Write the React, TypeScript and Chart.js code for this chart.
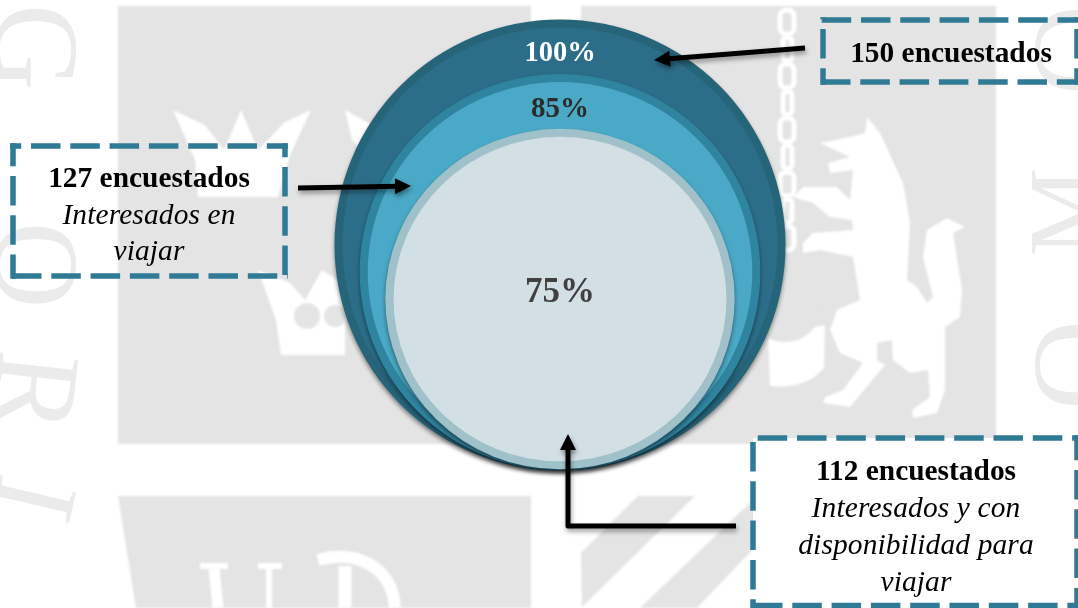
import React, { useEffect, useRef } from "react";
import { Chart, registerables } from "chart.js";

Chart.register(...registerables);

const categories = ["Encuestados", "Interesados en viajar", "Interesados y con disponibilidad para viajar"];
const respondents = [150, 127, 112];
const percentages = [100, 85, 75];
// Diameter of each circle as drawn in the picture, outer circle = 100
const drawnSize = [100, 87.8, 75.5];
const drawnLift = [0, 0.2, 0.5];

const WIDTH = 1078;
const HEIGHT = 608;
const PX_PER_UNIT = 2.255;
const CENTER_X = 560;
const BASE_Y = 470.5;
const RIM = 8;
const widthStretch = [1, 1.012, 1.026];
const rimColors = ["#26647a", "#2f84a0", "#a1c1ca"];
const fillColors = ["#2c6e8a", "#4aa9c6", "#d2dfe5"];
const percentColors = ["#ffffff", "#2b2b2b", "#404040"];
const percentFonts = [28.5, 29, 35];
const percentY = [54, 110, 293];
const GREY = "#e4e4e4";
const TEAL = "#2f7a94";

type Pt = [number, number];
const poly = (c: CanvasRenderingContext2D, pts: Pt[], color: string) => {
  c.fillStyle = color;
  c.beginPath();
  pts.forEach(([x, y], i) => (i ? c.lineTo(x, y) : c.moveTo(x, y)));
  c.closePath();
  c.fill();
};

const lion: Pt[] = [
  [867, 117], [880, 133], [903, 183], [910, 223], [907, 280], [917, 287], [927, 303], [933, 297], [923, 257],
  [927, 230], [947, 218], [965, 227], [953, 233], [962, 290], [960, 317], [945, 327], [945, 390], [937, 413],
  [913, 418], [912, 410], [930, 397], [928, 370], [910, 373], [893, 360], [892, 340], [877, 343], [877, 360],
  [885, 365], [850, 407], [823, 403], [825, 397], [843, 390], [863, 363], [840, 353], [830, 330], [837, 310],
  [860, 300], [853, 257], [820, 250], [803, 253], [803, 243], [813, 233], [853, 230], [852, 220], [830, 217],
  [813, 203], [793, 197], [803, 187], [837, 187], [850, 200], [853, 170], [830, 173], [828, 163], [850, 157],
  [820, 143], [850, 137], [865, 133],
];

const drawWatermark = (c: CanvasRenderingContext2D) => {
  c.save();
  c.fillStyle = "#ffffff";
  c.fillRect(0, 0, WIDTH, HEIGHT);
  c.filter = "blur(0.8px)";
  c.fillStyle = GREY;
  c.fillRect(118, 6, 413, 438);
  c.fillRect(581, 6, 415, 438);
  poly(c, [[118, 496], [531, 496], [531, 608], [136, 608]], GREY);
  poly(c, [[638, 496], [695, 496], [582, 607], [581, 553]], GREY);
  poly(c, [[757, 496], [757, 545], [697, 608], [640, 608]], GREY);

  // crowns
  poly(c, [[173, 110], [205, 125], [224, 150], [241, 110], [258, 150], [285, 122], [311, 110], [290, 155], [278, 197], [198, 197], [195, 160]], "#fff");
  poly(c, [[345, 110], [372, 125], [372, 160], [352, 140]], "#fff");
  poly(c, [[258, 270], [290, 283], [305, 300], [322, 270], [345, 285], [345, 355], [281, 355], [276, 320]], "#fff");
  c.fillStyle = GREY;
  c.beginPath();
  c.arc(307, 316, 13, 0, Math.PI * 2);
  c.arc(335, 316, 11, 0, Math.PI * 2);
  c.fill();

  // lion, bucket and chain
  poly(c, lion, "#fff");
  c.fillStyle = "#fff";
  c.beginPath();
  c.moveTo(768, 335);
  c.lineTo(825, 325);
  c.lineTo(824, 368);
  c.quadraticCurveTo(805, 390, 770, 386);
  c.closePath();
  c.fill();
  c.fillStyle = GREY;
  c.beginPath();
  c.ellipse(785, 316, 32, 26, 0, 0, Math.PI * 2);
  c.fill();
  c.strokeStyle = "#fff";
  c.lineWidth = 5;
  for (let i = 0; i < 9; i++) {
    const y = 10 + i * 27;
    const wide = i % 2 === 0;
    c.beginPath();
    c.roundRect(wide ? 780 : 783, y, wide ? 14 : 9, 24, 6);
    c.stroke();
  }

  // lower emblem strokes
  c.strokeStyle = "#fff";
  c.lineWidth = 11;
  c.beginPath();
  c.moveTo(214, 568); c.lineTo(218, 608);
  c.stroke();
  c.lineWidth = 6;
  c.beginPath();
  c.moveTo(269, 568); c.lineTo(269, 608);
  c.moveTo(200, 566); c.lineTo(228, 566);
  c.moveTo(258, 566); c.lineTo(282, 566);
  c.stroke();
  c.lineWidth = 13;
  c.beginPath();
  c.moveTo(345, 608); c.lineTo(345, 566);
  c.stroke();
  c.lineWidth = 12;
  c.beginPath();
  c.moveTo(318, 560);
  c.bezierCurveTo(355, 550, 392, 565, 395, 608);
  c.stroke();
  c.filter = "none";

  // side letters of the watermark
  const letter = (t: string, x: number, y: number, rot: number, size: number, color = "#ebebeb") => {
    c.save();
    c.translate(x, y);
    c.rotate(rot);
    c.fillStyle = color;
    c.font = `${size}px "Liberation Serif"`;
    c.textAlign = "center";
    c.textBaseline = "alphabetic";
    c.fillText(t, 0, 0);
    c.restore();
  };
  letter("G", -4, 47, Math.PI / 2, 120);
  letter("O", -4, 265, Math.PI / 2, 120);
  letter("R", -4, 388, 1.68, 120);
  letter("I", -4, 490, 1.8, 120);
  letter("O", 1118, 50, -Math.PI / 2, 125);
  letter("M", 1097, 212, -Math.PI / 2, 100);
  letter("O", 1118, 365, -Math.PI / 2, 125);
  c.restore();
};

const DASH = 29.5;
const PITCH = 39.3;
const side = (c: CanvasRenderingContext2D, x1: number, y1: number, x2: number, y2: number, start: number) => {
  const from = x1 === x2 ? y1 : x1;
  c.lineDashOffset = (((from - start) % PITCH) + PITCH) % PITCH;
  c.beginPath();
  c.moveTo(x1, y1);
  c.lineTo(x2, y2);
  c.stroke();
};

const dashedBox = (
  c: CanvasRenderingContext2D,
  x: number, y: number, w: number, h: number,
  starts: { top: number; right: number; bottom: number; left: number },
  fill?: string,
) => {
  c.save();
  if (fill) {
    c.fillStyle = fill;
    c.fillRect(x, y, w, h);
  }
  const e = 2.75;
  c.strokeStyle = TEAL;
  c.lineWidth = 5.5;
  c.setLineDash([DASH, PITCH - DASH]);
  side(c, x - e, y, x + w + e, y, starts.top);
  side(c, x + w, y - e, x + w, y + h + e, starts.right);
  side(c, x - e, y + h, x + w + e, y + h, starts.bottom);
  side(c, x, y - e, x, y + h + e, starts.left);
  c.restore();
};

const arrow = (c: CanvasRenderingContext2D, pts: Pt[]) => {
  const tip = pts[pts.length - 1];
  const prev = pts[pts.length - 2];
  const a = Math.atan2(tip[1] - prev[1], tip[0] - prev[0]);
  c.save();
  c.shadowColor = "rgba(0,0,0,0.4)";
  c.shadowBlur = 5;
  c.shadowOffsetX = 1;
  c.shadowOffsetY = 3;
  c.strokeStyle = "#000";
  c.lineWidth = 5;
  c.lineJoin = "round";
  c.beginPath();
  pts.forEach(([x, y], i) => {
    if (i === pts.length - 1) {
      c.lineTo(x - 12 * Math.cos(a), y - 12 * Math.sin(a));
    } else if (i) c.lineTo(x, y);
    else c.moveTo(x, y);
  });
  c.stroke();
  c.fillStyle = "#000";
  c.beginPath();
  c.moveTo(tip[0], tip[1]);
  c.lineTo(tip[0] - 16 * Math.cos(a) - 8 * Math.sin(a), tip[1] - 16 * Math.sin(a) + 8 * Math.cos(a));
  c.lineTo(tip[0] - 16 * Math.cos(a) + 8 * Math.sin(a), tip[1] - 16 * Math.sin(a) - 8 * Math.cos(a));
  c.closePath();
  c.fill();
  c.restore();
};

const text = (c: CanvasRenderingContext2D, t: string, x: number, y: number, font: string, color = "#000", spacing = "0px") => {
  c.font = font;
  c.fillStyle = color;
  (c as any).letterSpacing = spacing;
  c.textAlign = "center";
  c.textBaseline = "middle";
  c.fillText(t, x, y);
  (c as any).letterSpacing = "0px";
};

const BOLD = 'bold 29.4px "Liberation Serif"';
const ITALIC = 'italic 29.4px "Liberation Serif"';
const SP = "0.15px";

const scenery = {
  id: "scenery",
  beforeDraw(chart: Chart) {
    drawWatermark(chart.ctx);
  },
  beforeDatasetDraw(chart: Chart, args: { index: number }) {
    const c = chart.ctx;
    c.save();
    const cx = chart.scales.x.getPixelForValue(0);
    c.translate(cx, 0);
    c.scale(widthStretch[Math.floor(args.index / 2)], 1);
    c.translate(-cx, 0);
    if (args.index % 2 === 0) {
      c.shadowColor = "rgba(0,0,0,0.45)";
      c.shadowBlur = 4;
      c.shadowOffsetY = 3;
    }
  },
  afterDatasetDraw(chart: Chart) {
    chart.ctx.restore();
  },
  afterDatasetsDraw(chart: Chart) {
    const c = chart.ctx;
    const x = chart.scales.x.getPixelForValue(0);
    percentages.forEach((p, i) => {
      text(c, `${p}%`, x, percentY[i], `bold ${percentFonts[i]}px "Liberation Serif"`, percentColors[i]);
    });

    dashedBox(c, 13, 146, 272, 130, { top: 31, right: 167, bottom: 12, left: 176 });
    dashedBox(c, 823, 20, 254, 62, { top: 861, right: 29, bottom: 821, left: 29 });
    dashedBox(c, 753, 438, 324, 167.5, { top: 797, right: 470, bottom: 753, left: 442 }, "#ffffff");

    arrow(c, [[805, 48], [654, 60]]);
    arrow(c, [[298, 188], [411, 186]]);
    arrow(c, [[736, 526], [568, 526], [568, 434]]);

    text(c, `${respondents[0]} encuestados`, 951, 54, BOLD);
    text(c, `${respondents[1]} encuestados`, 149, 179, BOLD);
    text(c, "Interesados en", 149, 216, ITALIC, "#000", SP);
    text(c, "viajar", 149, 252, ITALIC, "#000", SP);
    text(c, `${respondents[2]} encuestados`, 916, 472, BOLD);
    text(c, "Interesados y con", 916, 509, ITALIC, "#000", SP);
    text(c, "disponibilidad para", 916, 546, ITALIC, "#000", SP);
    text(c, "viajar", 916, 583, ITALIC, "#000", SP);
  },
};

export default function App() {
  const ref = useRef<HTMLCanvasElement>(null);
  useEffect(() => {
    if (!ref.current) return;
    const datasets: any[] = [];
    drawnSize.forEach((size, i) => {
      const y = size + drawnLift[i];
      datasets.push({
        label: `${categories[i]} (borde)`,
        data: [{ x: 0, y, r: size * PX_PER_UNIT }],
        backgroundColor: rimColors[i],
        borderWidth: 0,
        hoverRadius: 0,
        clip: false,
        order: 10 - i * 2,
      });
      datasets.push({
        label: categories[i],
        data: [{ x: 0, y, r: size * PX_PER_UNIT - RIM }],
        backgroundColor: fillColors[i],
        borderWidth: 0,
        hoverRadius: 0,
        clip: false,
        order: 9 - i * 2,
      });
    });
    const chart = new Chart(ref.current, {
      type: "bubble",
      data: { datasets },
      plugins: [scenery as any],
      options: {
        animation: false,
        responsive: false,
        events: [],
        layout: { padding: 0, autoPadding: false },
        plugins: { legend: { display: false }, tooltip: { enabled: false } },
        scales: {
          x: { type: "linear", display: false, min: -CENTER_X / PX_PER_UNIT, max: (WIDTH - CENTER_X) / PX_PER_UNIT },
          y: { type: "linear", display: false, min: -(HEIGHT - BASE_Y) / PX_PER_UNIT, max: BASE_Y / PX_PER_UNIT },
        },
      },
    });
    return () => chart.destroy();
  }, []);
  return (
    <div style={{ position: "absolute", left: 0, top: 0, width: WIDTH, height: HEIGHT }}>
      <canvas ref={ref} width={WIDTH} height={HEIGHT} style={{ display: "block" }} />
    </div>
  );
}
